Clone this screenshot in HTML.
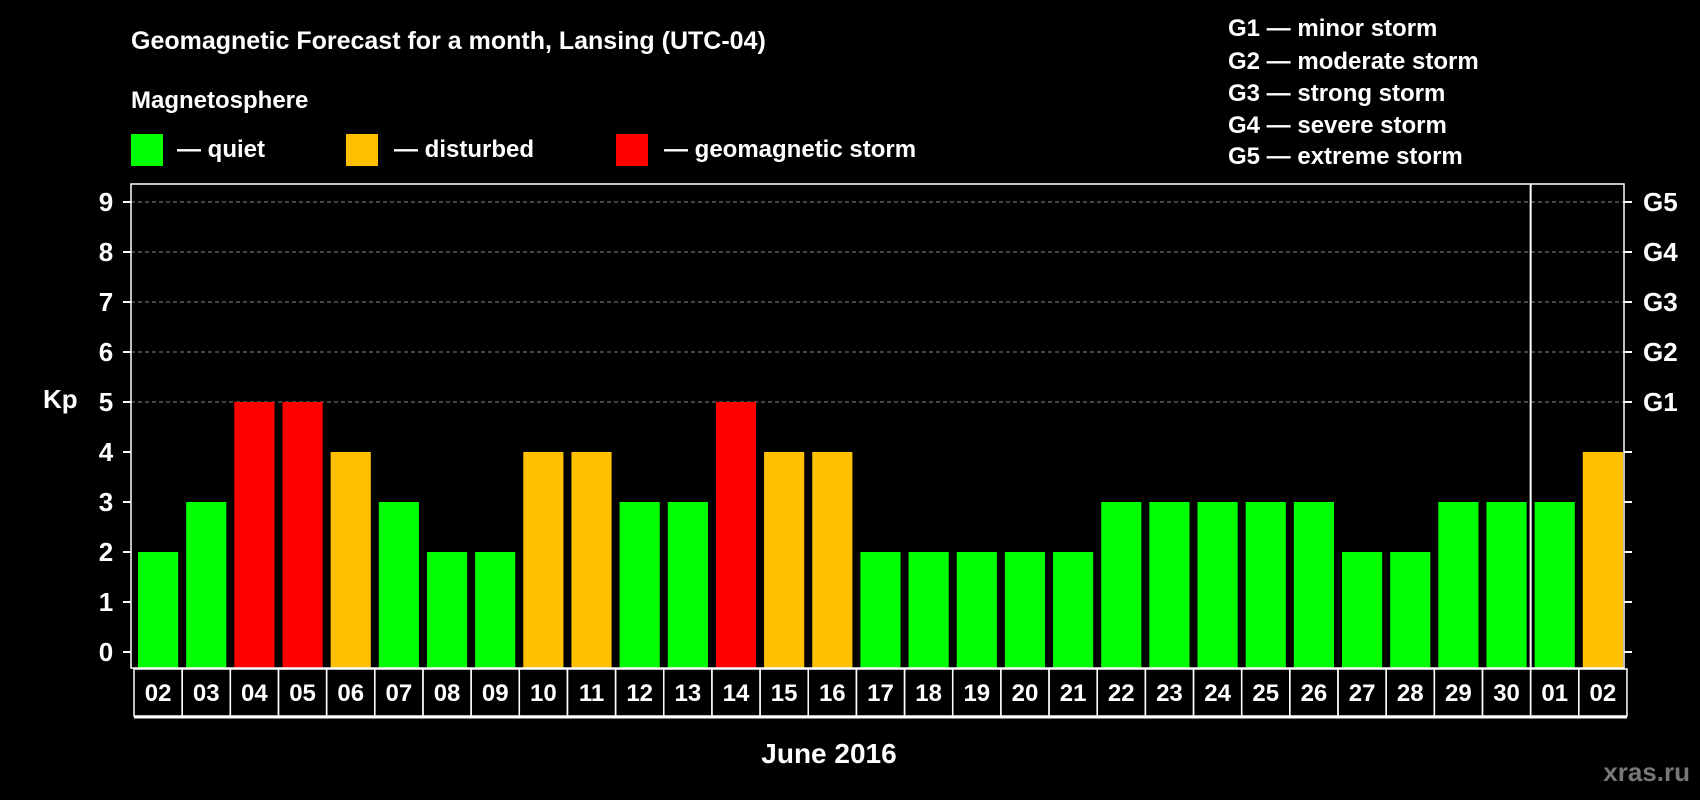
<!DOCTYPE html>
<html><head><meta charset="utf-8"><style>
html,body{margin:0;padding:0;background:#000;}
svg{display:block;font-family:"Liberation Sans",Arial,sans-serif;font-weight:bold;}
</style></head><body>
<svg id="c" width="1700" height="800" viewBox="0 0 1700 800">
<rect width="1700" height="800" fill="#000"/>
<text x="131" y="49" fill="#fff" font-size="25">Geomagnetic Forecast for a month, Lansing (UTC-04)</text>
<text x="131" y="108" fill="#fff" font-size="24">Magnetosphere</text>
<g><rect x="131" y="134" width="32" height="32" fill="#00ff00"/><text x="177" y="157" fill="#fff" font-size="24">— quiet</text></g>
<g><rect x="346" y="134" width="32" height="32" fill="#ffc000"/><text x="394" y="157" fill="#fff" font-size="24">— disturbed</text></g>
<g><rect x="616" y="134" width="32" height="32" fill="#ff0000"/><text x="664" y="157" fill="#fff" font-size="24">— geomagnetic storm</text></g>
<g font-size="24" fill="#fff">
<text x="1228" y="36">G1 — minor storm</text>
<text x="1228" y="69">G2 — moderate storm</text>
<text x="1228" y="101">G3 — strong storm</text>
<text x="1228" y="133">G4 — severe storm</text>
<text x="1228" y="164">G5 — extreme storm</text>
</g>
<text x="43" y="408" fill="#fff" font-size="26">Kp</text>
<text x="829" y="763" fill="#fff" font-size="28" text-anchor="middle">June 2016</text>
<text x="1690" y="781" fill="#777" font-size="26" text-anchor="end">xras.ru</text>
<g id="plot"></g>
</svg>
<script>
const dates=["02","03","04","05","06","07","08","09","10","11","12","13","14","15","16","17","18","19","20","21","22","23","24","25","26","27","28","29","30","01","02"];
const kp=[2,3,5,5,4,3,2,2,4,4,3,3,5,4,4,2,2,2,2,2,3,3,3,3,3,2,2,3,3,3,4];
const yTicks=[0,1,2,3,4,5,6,7,8,9];
const gLabels=["G1","G2","G3","G4","G5"];
const NS="http://www.w3.org/2000/svg";
const g=document.getElementById('plot');
const L=131,R=1624,T=184,B=668,X0=134,CW=48.16;
const y=v=>652-v*50;
const x=i=>X0+i*CW;
function mk(t,a){const e=document.createElementNS(NS,t);for(const k in a)e.setAttribute(k,a[k]);g.appendChild(e);return e;}
function col(v){return v>=5?"#ff0000":v>=4?"#ffc000":"#00ff00";}
yTicks.forEach(v=>{
 if(v>=5){const l=mk('line',{x1:L,x2:R,y1:y(v),y2:y(v),stroke:'#888','stroke-dasharray':'4,3','stroke-width':1});
 }
 const t1=mk('line',{x1:L-8,x2:L,y1:y(v),y2:y(v),stroke:'#fff','stroke-width':2});
 
 const t2=mk('line',{x1:R,x2:R+8,y1:y(v),y2:y(v),stroke:'#fff','stroke-width':2});
 
 const tx=mk('text',{x:106,y:y(v)+9,fill:'#fff','font-size':26,'text-anchor':'middle'});tx.textContent=v;
 
 if(v>=5){const gt=mk('text',{x:1643,y:y(v)+9,fill:'#fff','font-size':26});gt.textContent=gLabels[v-5];
 }
});
kp.forEach((v,i)=>{
 const b=mk('rect',{x:x(i)+4,y:y(v),width:CW-8,height:B-y(v),fill:col(v)});
 
 const c=mk('rect',{x:x(i),y:669,width:CW,height:47,fill:'none',stroke:'#fff','stroke-width':1.5});
 
 const t=mk('text',{x:x(i)+CW/2,y:701,fill:'#fff','font-size':24,'text-anchor':'middle'});t.textContent=dates[i];
 
});
const fr=mk('rect',{x:L,y:T,width:R-L,height:B-T,fill:'none',stroke:'#fff','stroke-width':1.5});

const bl=mk('line',{x1:X0,x2:X0+31*CW,y1:717,y2:717,stroke:'#fff','stroke-width':3});

const sep=mk('line',{x1:x(29),x2:x(29),y1:T,y2:B,stroke:'#fff','stroke-width':2});

</script>
</body></html>
